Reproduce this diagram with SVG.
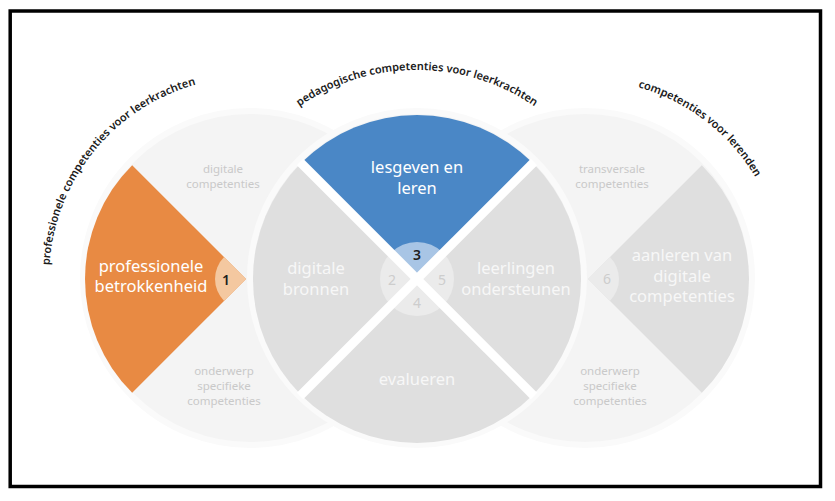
<svg xmlns="http://www.w3.org/2000/svg" width="835" height="501" viewBox="0 0 835 501">
<style>
  .bg{fill:#f4f4f4;stroke:#fafafa;stroke-width:6}
  .gray{fill:#dfdfdf}
  .gbadge{fill:#ebebeb}
  .big{font-family:"Noto Sans","Open Sans","DejaVu Sans",sans-serif;font-size:16.5px;text-anchor:middle}
  .w{fill:#ffffff}
  .gw{fill:#f7f7f7}
  .small{font-family:"Noto Sans","Open Sans","DejaVu Sans",sans-serif;font-size:11.5px;text-anchor:middle;fill:#c9c9c9}
  .num{font-family:"Noto Sans","Open Sans","DejaVu Sans",sans-serif;font-size:14px;text-anchor:middle}
  .numd{fill:#1e1e1e;font-weight:600}
  .numg{fill:#cdcdcd}
  .arc{font-family:"Noto Sans","Open Sans","DejaVu Sans",sans-serif;font-size:11px;font-weight:600;fill:#1a1a1a}
  .gap{stroke:#ffffff;stroke-width:9}
</style>
<defs>
  <path id="arcL" d="M77.7,381.5 A201,201 0 0 1 315.4,88"/>
  <path id="arcC" d="M221.5,206.9 A208,208 0 0 1 612.5,206.9"/>
  <path id="arcR" d="M478.6,111 A198,198 0 0 1 773.8,337.5"/>
</defs>
<rect x="0" y="0" width="835" height="501" fill="#ffffff"/>
<rect x="10.2" y="11" width="810.3" height="475.5" fill="none" stroke="#000000" stroke-width="3.5"/>

<g id="circle-professioneel">
  <circle class="bg" cx="250" cy="278" r="167"/>
  <text class="small" x="223" y="173">digitale</text>
  <text class="small" x="223" y="188">competenties</text>
  <text class="small" x="224" y="375">onderwerp</text>
  <text class="small" x="224" y="390">specifieke</text>
  <text class="small" x="224" y="405">competenties</text>
</g>
<g id="circle-lerenden">
  <circle class="bg" cx="585" cy="278" r="167"/>
  <text class="small" x="612" y="173">transversale</text>
  <text class="small" x="612" y="188">competenties</text>
  <text class="small" x="610" y="375">onderwerp</text>
  <text class="small" x="610" y="390">specifieke</text>
  <text class="small" x="610" y="405">competenties</text>
</g>

<g id="node-1-professionele-betrokkenheid">
  <path d="M246,279 L132.16,392.84 A161,161 0 0 1 132.16,165.16 Z" fill="#e88a43"/>
  <path d="M246,279 L224.08,300.92 A31,31 0 0 1 224.08,257.08 Z" fill="#f4c8a0"/>
  <text class="num numd" x="226" y="285">1</text>
  <text class="big w" x="151" y="272">professionele</text>
  <text class="big w" x="151" y="292">betrokkenheid</text>
</g>

<g id="node-6-aanleren">
  <path d="M588,279 L701.84,165.16 A161,161 0 0 1 701.84,392.84 Z" class="gray"/>
  <path d="M588,279 L609.92,257.08 A31,31 0 0 1 609.92,300.92 Z" class="gbadge"/>
  <text class="num numg" x="607" y="284">6</text>
  <text class="big gw" x="682" y="261">aanleren van</text>
  <text class="big gw" x="682" y="282">digitale</text>
  <text class="big gw" x="682" y="302">competenties</text>
</g>

<g id="circle-pedagogisch">
  <circle class="bg" cx="417" cy="278" r="167"/>
  <g id="node-3-lesgeven">
    <path d="M417,279 L301.03,163.03 A164,164 0 0 1 532.97,163.03 Z" fill="#4a87c6"/>
    <path d="M417,279 L390.84,252.84 A37,37 0 0 1 443.16,252.84 Z" fill="#a8c5e5"/>
  </g>
  <g id="node-5-leerlingen">
    <path d="M417,279 L532.97,163.03 A164,164 0 0 1 532.97,394.97 Z" class="gray"/>
    <path d="M417,279 L443.16,252.84 A37,37 0 0 1 443.16,305.16 Z" class="gbadge"/>
  </g>
  <g id="node-4-evalueren">
    <path d="M417,279 L532.97,394.97 A164,164 0 0 1 301.03,394.97 Z" class="gray"/>
    <path d="M417,279 L443.16,305.16 A37,37 0 0 1 390.84,305.16 Z" class="gbadge"/>
  </g>
  <g id="node-2-bronnen">
    <path d="M417,279 L301.03,394.97 A164,164 0 0 1 301.03,163.03 Z" class="gray"/>
    <path d="M417,279 L390.84,305.16 A37,37 0 0 1 390.84,252.84 Z" class="gbadge"/>
  </g>
  <line class="gap" x1="300" y1="162" x2="534" y2="396"/>
  <line class="gap" x1="534" y1="162" x2="300" y2="396"/>
  <text class="num numd" x="417" y="260">3</text>
  <text class="num numg" x="392" y="285">2</text>
  <text class="num numg" x="442" y="285">5</text>
  <text class="num numg" x="417" y="308">4</text>
  <text class="big w" x="417" y="173">lesgeven en</text>
  <text class="big w" x="417" y="194">leren</text>
  <text class="big gw" x="316" y="274">digitale</text>
  <text class="big gw" x="316" y="295">bronnen</text>
  <text class="big gw" x="516" y="274">leerlingen</text>
  <text class="big gw" x="516" y="295">ondersteunen</text>
  <text class="big gw" x="417" y="385">evalueren</text>
</g>

<g id="arc-labels">
  <text class="arc"><textPath href="#arcL" startOffset="50%" text-anchor="middle">professionele competenties voor leerkrachten</textPath></text>
  <text class="arc"><textPath href="#arcC" startOffset="50%" text-anchor="middle">pedagogische competenties voor leerkrachten</textPath></text>
  <text class="arc"><textPath href="#arcR" startOffset="50%" text-anchor="middle">competenties voor lerenden</textPath></text>
</g>
</svg>
